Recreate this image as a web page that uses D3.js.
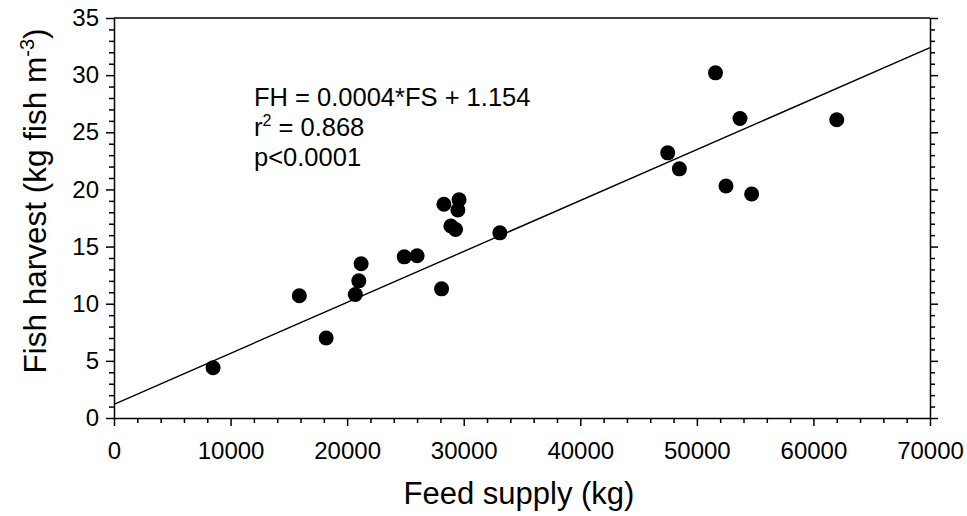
<!DOCTYPE html>
<html lang="en">
  <head>
    <meta charset="utf-8">
    <title>Fish harvest vs feed supply</title>
    <script src="https://d3js.org/d3.v7.min.js"></script>
    <style>
      html, body { margin: 0; padding: 0; background: #fff; }
      svg { display: block; font-family: "Liberation Sans", Arial, sans-serif; }
      .axis path, .axis line { stroke: #000; stroke-width: 1.5; }
      .axis text { font-size: 24px; fill: #000; }
    </style>
  </head>
  <body>
    <svg id="chart" width="967" height="516"></svg>
    <script>
      // data
      var feedSupply = [8500, 15900, 18200, 20700, 21000, 21200, 24900, 26000, 28100, 28300, 29600,
                        29500, 28900, 29300, 33100, 47500, 48500, 51600, 52500, 53700, 54700, 62000];
      var fishHarvest = [4.4, 10.7, 7.0, 10.8, 12.0, 13.5, 14.1, 14.2, 11.3, 18.7, 19.1,
                         18.2, 16.8, 16.5, 16.2, 23.2, 21.8, 30.2, 20.3, 26.2, 19.6, 26.1];
      // fitted line end points
      var fitX = [0, 70000];
      var fitY = [1.2, 32.4];
      var xTicks = [0, 10000, 20000, 30000, 40000, 50000, 60000, 70000];
      var yTicks = [0, 5, 10, 15, 20, 25, 30, 35];
      var annotation = ['FH = 0.0004*FS + 1.154', 'r2 = 0.868', 'p<0.0001'];

      var margin = {top: 18, right: 37, bottom: 98, left: 114};
      var width = 967 - margin.left - margin.right;
      var height = 516 - margin.top - margin.bottom;

      var svg = d3.select('#chart');
      var g = svg.append('g')
        .attr('transform', 'translate(' + margin.left + ',' + margin.top + ')');

      var x = d3.scaleLinear().domain([0, 70000]).range([0, width]);
      var y = d3.scaleLinear().domain([0, 35]).range([height, 0]);

      var xMinor = d3.range(0, 70001, 2000).filter(function(v) { return v % 10000 !== 0; });
      var yMinor = d3.range(0, 36, 1).filter(function(v) { return v % 5 !== 0; });

      // minor ticks first
      g.append('g').attr('class', 'axis')
        .attr('transform', 'translate(0,' + height + ')')
        .call(d3.axisBottom(x).tickValues(xMinor).tickSize(5).tickFormat(''))
        .select('.domain').remove();
      g.append('g').attr('class', 'axis')
        .call(d3.axisLeft(y).tickValues(yMinor).tickSize(5).tickFormat(''))
        .select('.domain').remove();
      g.append('g').attr('class', 'axis')
        .attr('transform', 'translate(' + width + ',0)')
        .call(d3.axisRight(y).tickValues(yMinor).tickSize(5).tickFormat(''))
        .select('.domain').remove();

      // major ticks
      g.append('g').attr('class', 'axis')
        .attr('transform', 'translate(0,' + height + ')')
        .call(d3.axisBottom(x).tickValues(xTicks).tickSize(8).tickSizeOuter(0).tickPadding(16)
          .tickFormat(d3.format('d')));
      g.append('g').attr('class', 'axis')
        .call(d3.axisLeft(y).tickValues(yTicks).tickSize(8).tickSizeOuter(0).tickPadding(7)
          .tickFormat(d3.format('d')));
      g.append('g').attr('class', 'axis')
        .attr('transform', 'translate(' + width + ',0)')
        .call(d3.axisRight(y).tickValues(yTicks).tickSize(8).tickSizeOuter(0).tickFormat(''));
      // top frame line
      g.append('line')
        .attr('x1', 0).attr('x2', width).attr('y1', 0).attr('y2', 0)
        .attr('stroke', '#000').attr('stroke-width', 1.5);

      // regression line
      g.append('line')
        .attr('x1', x(fitX[0])).attr('y1', y(fitY[0]))
        .attr('x2', x(fitX[1])).attr('y2', y(fitY[1]))
        .attr('stroke', '#000').attr('stroke-width', 1.4);

      // points
      g.selectAll('circle')
        .data(feedSupply)
        .enter().append('circle')
          .attr('cx', function(d) { return x(d); })
          .attr('cy', function(d, i) { return y(fishHarvest[i]); })
          .attr('r', 7.5)
          .attr('fill', '#000');

      // annotation
      var note = g.append('text')
        .attr('x', 140).attr('y', 88)
        .style('font-size', '25.5px');
      note.append('tspan').attr('x', 140).attr('dy', 0).text(annotation[0]);
      var r2 = note.append('tspan').attr('x', 140).attr('dy', 30).text('r');
      r2.append('tspan').attr('dy', -10).style('font-size', '16px').text('2');
      r2.append('tspan').attr('dy', 10).text(annotation[1].slice(2));
      note.append('tspan').attr('x', 140).attr('dy', 30).text(annotation[2]);

      // axis titles
      svg.append('text')
        .attr('x', 519).attr('y', 504)
        .attr('text-anchor', 'middle')
        .style('font-size', '31px')
        .text('Feed supply (kg)');

      var yt = svg.append('text')
        .attr('transform', 'translate(46,201) rotate(-90)')
        .attr('text-anchor', 'middle')
        .style('font-size', '31.5px')
        .text('Fish harvest (kg fish m');
      yt.append('tspan').attr('dy', -12).style('font-size', '20px').text('-3');
      yt.append('tspan').attr('dy', 12).text(')');
    </script>
  </body>
</html>
